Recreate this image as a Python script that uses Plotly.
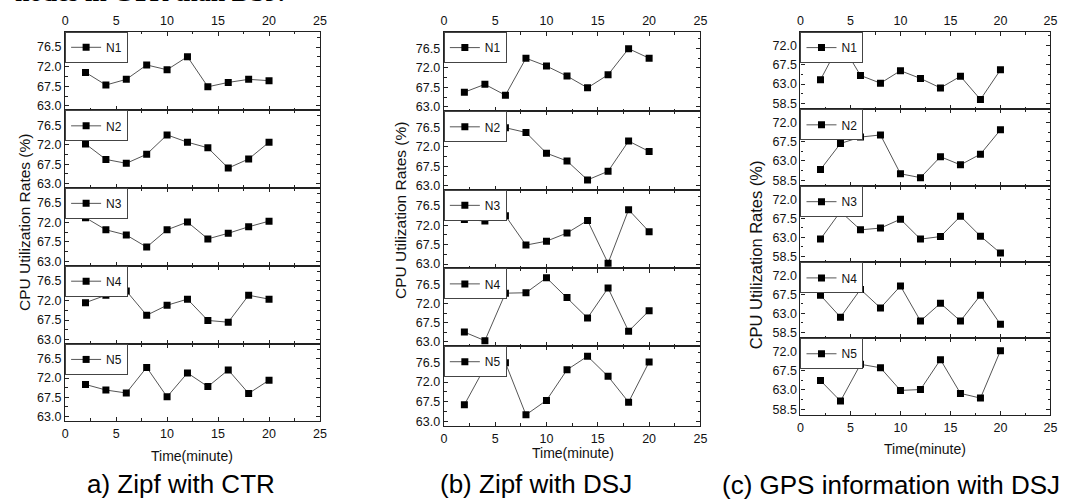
import plotly.graph_objects as go

# Sampling times (minutes)
time_min = [2, 4, 6, 8, 10, 12, 14, 16, 18, 20]
node_names = ["N1", "N2", "N3", "N4", "N5"]

# (a) Zipf with CTR
a_n1 = [70.7, 67.8, 69.1, 72.4, 71.3, 74.3, 67.4, 68.4, 69.1, 68.8]
a_n2 = [72.2, 68.6, 67.7, 69.8, 74.3, 72.6, 71.3, 66.6, 68.7, 72.6]
a_n3 = [73.1, 70.3, 69.1, 66.3, 70.3, 72.1, 68.2, 69.5, 71.0, 72.3]
a_n4 = [71.5, 73.2, 74.2, 68.6, 70.9, 72.3, 67.4, 67.0, 73.2, 72.3]
a_n5 = [70.5, 69.2, 68.5, 74.5, 67.6, 73.2, 70.0, 73.9, 68.4, 71.5]

# (b) Zipf with DSJ
b_n1 = [66.4, 68.2, 65.7, 74.2, 72.4, 70.1, 67.4, 70.4, 76.4, 74.2]
b_n2 = [74.3, 78.0, 76.4, 75.3, 70.5, 68.7, 64.3, 66.3, 73.3, 70.9]
b_n3 = [73.3, 73.0, 74.2, 67.4, 68.3, 70.2, 73.1, 63.2, 75.6, 70.5]
b_n4 = [65.3, 63.3, 74.4, 74.5, 78.0, 73.4, 68.6, 75.6, 65.5, 70.3]
b_n5 = [66.8, 75.4, 76.4, 64.5, 67.8, 74.8, 77.9, 73.3, 67.4, 76.6]

# (c) GPS information with DSJ
c_n1 = [64.0, 72.8, 65.0, 63.2, 66.1, 64.3, 62.1, 64.8, 59.4, 66.3]
c_n2 = [61.0, 67.1, 68.6, 69.1, 60.0, 59.1, 64.0, 62.1, 64.6, 70.3]
c_n3 = [62.6, 69.1, 64.8, 65.2, 67.3, 62.6, 63.2, 68.0, 63.3, 59.3]
c_n4 = [67.3, 62.1, 68.7, 64.3, 69.5, 61.2, 65.4, 61.2, 67.3, 60.4]
c_n5 = [65.2, 60.4, 69.0, 68.2, 62.9, 63.1, 70.1, 62.2, 61.1, 72.2]

captions = ["a) Zipf with CTR", "(b) Zipf with DSJ", "(c) GPS information with DSJ"]
x_title = "Time(minute)"
y_title = "CPU Utilization Rates (%)"
header_text = "nodes in CTR than DSJ."

W, H = 1073, 500

panels = [
    dict(series=[a_n1, a_n2, a_n3, a_n4, a_n5], yrange=[62.0, 80.0], tick0=63.0,
         x0=62.7, x1=320.0, rows=[32.0, 111.0, 189.0, 267.3, 346.0, 423.3],
         ytitle=(21.5, 224, 15.5), xtitle=(191, 459), cap=(180, 487)),
    dict(series=[b_n1, b_n2, b_n3, b_n4, b_n5], yrange=[62.0, 80.2], tick0=63.0,
         x0=445.0, x1=704.0, rows=[32.3, 112.0, 191.0, 270.0, 348.3, 428.3],
         ytitle=(401, 212, 15.5), xtitle=(575, 456), cap=(538, 487)),
    dict(series=[c_n1, c_n2, c_n3, c_n4, c_n5], yrange=[57.1, 75.1], tick0=58.5,
         x0=805.0, x1=1057.3, rows=[32.3, 110.0, 187.3, 264.0, 340.3, 417.7],
         ytitle=(761, 256, 16.5), xtitle=(931, 452), cap=(896, 488)),
]

FONT = "Liberation Sans, Arial, sans-serif"
FRAME = "#222222"

fig = go.Figure()
layout = dict(
    width=W, height=H,
    margin=dict(l=0, r=0, t=0, b=0),
    paper_bgcolor="white", plot_bgcolor="white",
    font=dict(family=FONT, color="#111111", size=12),
    showlegend=True,
)
annotations = []

k = 0
for p in panels:
    for r in range(5):
        k += 1
        sfx = "" if k == 1 else str(k)
        leg = "legend" + sfx
        fig.add_trace(go.Scatter(
            x=time_min, y=p["series"][r], name=node_names[r],
            mode="lines+markers",
            line=dict(color="#555555", width=1),
            marker=dict(symbol="square", size=7, color="black"),
            xaxis="x" + sfx, yaxis="y" + sfx, legend=leg,
        ))
        ytop, ybot = p["rows"][r], p["rows"][r + 1]
        side = "top" if r == 0 else "bottom"
        layout["xaxis" + sfx] = dict(
            domain=[p["x0"] / W, p["x1"] / W], anchor="y" + sfx,
            range=[0, 25], tick0=0, dtick=5, side=side,
            showticklabels=(r == 0 or r == 4),
            ticks="inside", ticklen=4, tickwidth=1, tickcolor=FRAME,
            minor=dict(ticks="inside", ticklen=2.5, dtick=2.5, tickcolor=FRAME, showgrid=False),
            showline=True, linecolor=FRAME, linewidth=1.3, mirror="allticks",
            showgrid=False, zeroline=False,
            tickfont=dict(size=12.5, family=FONT), ticklabelstandoff=1,
        )
        layout["yaxis" + sfx] = dict(
            domain=[1 - ybot / H, 1 - ytop / H], anchor="x" + sfx,
            range=p["yrange"], tick0=p["tick0"], dtick=4.5, tickformat=".1f",
            ticks="inside", ticklen=4, tickwidth=1, tickcolor=FRAME,
            minor=dict(ticks="inside", ticklen=2.5, dtick=2.25, tickcolor=FRAME, showgrid=False),
            showline=True, linecolor=FRAME, linewidth=1.3, mirror="allticks",
            showgrid=False, zeroline=False,
            tickfont=dict(size=12.5, family=FONT),
        )
        layout[leg] = dict(
            x=p["x0"] / W, y=1 - ytop / H, xanchor="left", yanchor="top",
            bgcolor="white", bordercolor="#444444", borderwidth=1,
            font=dict(size=12, family=FONT, color="#111111"),
            itemwidth=30, tracegroupgap=0,
        )

    yx, yy, ys = p["ytitle"]
    annotations.append(dict(text=y_title, textangle=-90, x=yx / W, y=1 - yy / H,
                            xref="paper", yref="paper", showarrow=False,
                            xanchor="center", yanchor="middle",
                            font=dict(size=ys, family=FONT, color="#111111")))
    tx, ty = p["xtitle"]
    annotations.append(dict(text=x_title, x=tx / W, y=1 - ty / H,
                            xref="paper", yref="paper", showarrow=False,
                            xanchor="center", yanchor="middle",
                            font=dict(size=14, family=FONT, color="#111111")))

for p, cap in zip(panels, captions):
    cx, cy = p["cap"]
    annotations.append(dict(text=cap, x=cx / W, y=1 - cy / H,
                            xref="paper", yref="paper", showarrow=False,
                            xanchor="center", yanchor="middle",
                            font=dict(size=26, family=FONT, color="black")))

# Trailing line of the preceding paragraph, running off the top edge
annotations.append(dict(text="<b>" + header_text + "</b>", x=10 / W, y=1 - 9 / H,
                        xref="paper", yref="paper", showarrow=False,
                        xanchor="left", yanchor="bottom",
                        font=dict(size=26, family="Liberation Serif, Times New Roman, serif",
                                  color="black")))

layout["annotations"] = annotations
fig.update_layout(**layout)
fig.write_html("out.html")
